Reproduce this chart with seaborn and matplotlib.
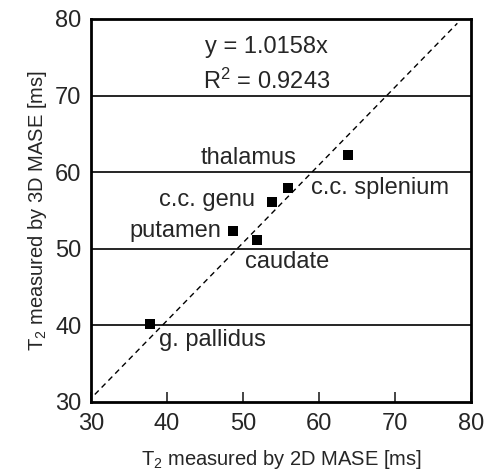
import numpy as np
import pandas as pd
import seaborn as sns
import matplotlib
matplotlib.use('Agg')
import matplotlib.pyplot as plt

# T2 values per brain region (2D MASE vs 3D MASE)
regions = ['thalamus', 'c.c. splenium', 'c.c. genu', 'putamen', 'caudate', 'g. pallidus']
t2_2d = [63.8, 55.9, 53.8, 48.7, 51.9, 37.8]
t2_3d = [62.2, 57.9, 56.1, 52.3, 51.2, 40.2]

# label anchor positions (data coords) and alignment
label_x = [57.0, 58.9, 51.6, 47.1, 50.3, 38.9]
label_y = [61.9, 57.9, 56.4, 52.3, 48.3, 38.1]
label_ha = ['right', 'left', 'right', 'right', 'left', 'left']

slope = 1.0158
fit_x = [30.5, 78.2]

df = pd.DataFrame({'region': regions, 't2_2d': t2_2d, 't2_3d': t2_3d})

sns.set_style('ticks')
plt.rcParams['font.family'] = ['Liberation Sans', 'DejaVu Sans']
plt.rcParams['mathtext.default'] = 'regular'

fig, ax = plt.subplots(figsize=(4.96, 4.71), dpi=100)
fig.subplots_adjust(left=0.1835, right=0.9496, bottom=0.1465, top=0.9597)

for yv in [40, 50, 60, 70]:
    ax.axhline(yv, color='black', lw=1.2, zorder=1)

ax.plot(fit_x, [slope * v for v in fit_x], ls=(0, (4, 3)), color='black', lw=1.0, zorder=2)

sns.scatterplot(data=df, x='t2_2d', y='t2_3d', marker='s', color='black',
                s=55, edgecolor='black', linewidth=0, ax=ax, zorder=3)

for name, lx, ly, ha in zip(regions, label_x, label_y, label_ha):
    ax.text(lx, ly, name, ha=ha, va='center', fontsize=17)

ax.text(53.1, 76.3, 'y = 1.0158x', ha='center', va='center', fontsize=17)
ax.text(53.1, 71.8, 'R$^2$ = 0.9243', ha='center', va='center', fontsize=17)

ax.set_xlim(30, 80)
ax.set_ylim(30, 80)
ax.set_xticks([30, 40, 50, 60, 70, 80])
ax.set_yticks([30, 40, 50, 60, 70, 80])
ax.tick_params(axis='x', direction='in', length=7, width=1.2, labelsize=17, pad=8)
ax.tick_params(axis='y', direction='in', length=0, labelsize=17, pad=7)
for sp in ax.spines.values():
    sp.set_visible(True)
    sp.set_linewidth(2)
    sp.set_color('black')

ax.set_xlabel('T$_2$ measured by 2D MASE [ms]', fontsize=14.5, labelpad=9)
ax.set_ylabel('T$_2$ measured by 3D MASE [ms]', fontsize=14.5, labelpad=4)

fig.savefig('out.png', dpi=100)
